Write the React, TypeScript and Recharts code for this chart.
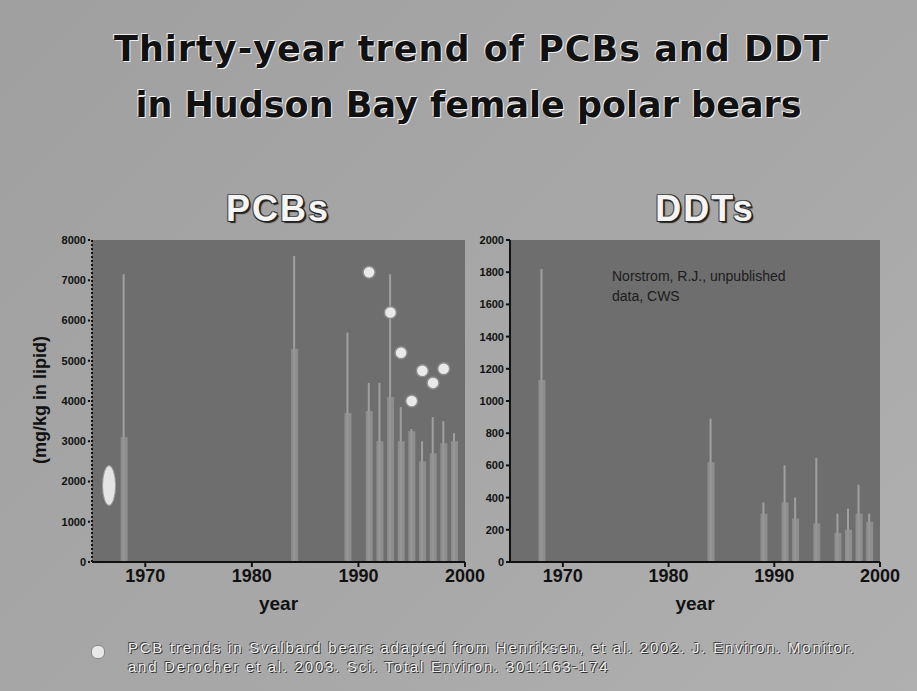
import React from 'react';
import { ComposedChart, Bar, Scatter, XAxis, YAxis, CartesianGrid } from 'recharts';

// ---- Data ----
const pcbYears = [1968, 1984, 1989, 1991, 1992, 1993, 1994, 1995, 1996, 1997, 1998, 1999];
const pcbMean = [3100, 5300, 3700, 3750, 3000, 4100, 3000, 3250, 2500, 2700, 2950, 3000];
const pcbUpper = [7150, 7600, 5700, 4450, 4450, 7150, 3850, 3300, 3000, 3600, 3500, 3200];

const svalbardYears = [1991, 1993, 1994, 1995, 1996, 1997, 1998];
const svalbardPcb = [7200, 6200, 5200, 4000, 4750, 4450, 4800];

const ovalYear = [1966.6];
const ovalValue = [1900];

const ddtYears = [1968, 1984, 1989, 1991, 1992, 1994, 1996, 1997, 1998, 1999];
const ddtMean = [1130, 620, 300, 370, 270, 240, 180, 200, 300, 250];
const ddtUpper = [1820, 890, 370, 600, 400, 646, 300, 330, 480, 300];

const yearTicks = [1970, 1980, 1990, 2000];
const pcbTicks = [0, 1000, 2000, 3000, 4000, 5000, 6000, 7000, 8000];
const ddtTicks = [0, 200, 400, 600, 800, 1000, 1200, 1400, 1600, 1800, 2000];

const titleLines = ['Thirty-year trend of PCBs and DDT', 'in Hudson Bay female polar bears'];
const noteLines = [
  'PCB trends in Svalbard bears adapted from Henriksen, et al. 2002. J. Environ. Monitor.',
  'and Derocher et al. 2003. Sci. Total Environ. 301:163-174',
];

const pcbData = pcbYears.map((y, i) => ({ year: y, mean: pcbMean[i], upper: pcbUpper[i] }));
const ddtData = ddtYears.map((y, i) => ({ year: y, mean: ddtMean[i], upper: ddtUpper[i] }));
const svalbardData = svalbardYears.map((y, i) => ({ year: y, value: svalbardPcb[i] }));
const ovalData = ovalYear.map((y, i) => ({ year: y, value: ovalValue[i] }));

const PLOT_FILL = '#6e6e6e';
const BAR_FILL = '#949494';
const LINE_FILL = '#a0a0a0';

const xTick = { fill: '#111', fontSize: 18, fontWeight: 700, fontFamily: 'Liberation Sans, Arial, sans-serif' };
const yTick = { fill: '#111', fontSize: 11, fontWeight: 700, fontFamily: 'Liberation Sans, Arial, sans-serif' };
const axisLabelStyle = { fill: '#111', fontSize: 19, fontWeight: 700, fontFamily: 'Liberation Sans, Arial, sans-serif' };

const Dot = (props: any) => {
  const { cx, cy } = props;
  if (cx == null || cy == null) return null;
  return <circle cx={cx} cy={cy} r={6} fill="#e9e9e9" stroke="#8c8c8c" strokeWidth={1.5} />;
};

const Oval = (props: any) => {
  const { cx, cy } = props;
  if (cx == null || cy == null) return null;
  return <ellipse cx={cx} cy={cy} rx={6.5} ry={20} fill="#e4e4e4" stroke="#9a9a9a" strokeWidth={1} />;
};

const abs = (left: number, top: number, extra: React.CSSProperties = {}): React.CSSProperties => ({
  position: 'absolute',
  left,
  top,
  ...extra,
});

export default function App() {
  return (
    <div
      style={{
        position: 'absolute',
        left: 0,
        top: 0,
        width: 917,
        height: 691,
        overflow: 'hidden',
        background: 'linear-gradient(135deg, #a0a0a0 0%, #a8a8a8 60%, #b0b0b0 100%)',
        fontFamily: 'Liberation Sans, Arial, sans-serif',
      }}
    >
      {/* Title */}
      {titleLines.map((t, i) => (
        <div
          key={t}
          style={abs(i === 0 ? 13 : 10, 29 + i * 56, {
            width: 917,
            textAlign: 'center',
            fontFamily: 'DejaVu Sans, sans-serif',
            fontWeight: 700,
            fontSize: 35,
            color: '#111',
            letterSpacing: i === 0 ? 1 : 0,
            textShadow: '-1px -1px 0 #eee, 1px 1px 0 #eee',
          })}
        >
          {t}
        </div>
      ))}

      {/* Panel titles */}
      {[
        { t: 'PCBs', x: 278 },
        { t: 'DDTs', x: 705 },
      ].map((p) => (
        <div
          key={p.t}
          style={abs(p.x - 100, 188, {
            width: 200,
            textAlign: 'center',
            fontWeight: 700,
            fontSize: 36,
            letterSpacing: 2,
            color: '#f5f5f5',
            textShadow: '1px 1px 0 #222, -1px -1px 0 #555, 2px 2px 1px #222, -1px 1px 0 #333, 1px -1px 0 #333',
          })}
        >
          {p.t}
        </div>
      ))}

      {/* Y axis label */}
      <div
        style={abs(42 - 110, 400 - 12, {
          width: 220,
          height: 24,
          textAlign: 'center',
          fontWeight: 700,
          fontSize: 18,
          color: '#111',
          transform: 'rotate(-90deg)',
          transformOrigin: '50% 50%',
        })}
      >
        (mg/kg in lipid)
      </div>

      {/* PCB chart */}
      <div style={abs(40, 230)}>
        <ComposedChart width={465} height={400} data={pcbData} margin={{ top: 10, right: 40, bottom: 18, left: 12 }}>
          <CartesianGrid fill={PLOT_FILL} horizontal={false} vertical={false} />
          <XAxis
            dataKey="year"
            type="number"
            domain={[1965, 2000]}
            ticks={yearTicks}
            allowDataOverflow
            tick={xTick}
            tickSize={5}
            stroke="#111"
            strokeWidth={2}
            height={50}
            label={{ value: 'year', position: 'insideBottom', offset: 2, style: axisLabelStyle }}
          />
          <XAxis xAxisId="thin" dataKey="year" type="number" domain={[1965, 2000]} hide />
          <YAxis
            type="number"
            domain={[0, 8000]}
            ticks={pcbTicks}
            tick={yTick}
            tickSize={4}
            width={40}
            stroke="#111"
            strokeWidth={2}
            strokeDasharray="2 2"
          />
          <Bar xAxisId="thin" dataKey="upper" barSize={2} fill={LINE_FILL} isAnimationActive={false} />
          <Bar dataKey="mean" barSize={7} fill={BAR_FILL} fillOpacity={0.85} isAnimationActive={false} />
          <Scatter data={ovalData} dataKey="value" shape={<Oval />} isAnimationActive={false} />
          <Scatter data={svalbardData} dataKey="value" shape={<Dot />} isAnimationActive={false} />
        </ComposedChart>
      </div>

      {/* DDT chart */}
      <div style={abs(470, 230)}>
        <ComposedChart width={440} height={400} data={ddtData} margin={{ top: 10, right: 30, bottom: 18, left: 8 }}>
          <CartesianGrid fill={PLOT_FILL} horizontal={false} vertical={false} />
          <XAxis
            dataKey="year"
            type="number"
            domain={[1965, 2000]}
            ticks={yearTicks}
            allowDataOverflow
            tick={xTick}
            tickSize={5}
            stroke="#111"
            strokeWidth={2}
            height={50}
            label={{ value: 'year', position: 'insideBottom', offset: 2, style: axisLabelStyle }}
          />
          <XAxis xAxisId="thin" dataKey="year" type="number" domain={[1965, 2000]} hide />
          <YAxis
            type="number"
            domain={[0, 2000]}
            ticks={ddtTicks}
            tick={yTick}
            tickSize={4}
            width={32}
            stroke="#111"
            strokeWidth={2}
          />
          <Bar xAxisId="thin" dataKey="upper" barSize={2} fill={LINE_FILL} isAnimationActive={false} />
          <Bar dataKey="mean" barSize={7} fill={BAR_FILL} fillOpacity={0.85} isAnimationActive={false} />
        </ComposedChart>
      </div>

      {/* Annotation in DDT panel */}
      <div
        style={abs(612, 266, {
          fontSize: 14,
          lineHeight: '20px',
          color: '#1c1c1c',
          width: 260,
        })}
      >
        Norstrom, R.J., unpublished
        <br />
        data, CWS
      </div>

      {/* Footnote */}
      <div style={abs(91, 645, { width: 12, height: 12, borderRadius: 6, background: '#e8e8e8', border: '1px solid #888' })} />
      <div
        style={abs(128, 638, {
          fontSize: 15,
          lineHeight: '19px',
          letterSpacing: 1.75,
          color: '#f0f0f0',
          whiteSpace: 'nowrap',
          textShadow: '1px 1px 0 #333, -1px -1px 0 #444',
        })}
      >
        {noteLines[0]}
        <br />
        {noteLines[1]}
      </div>
    </div>
  );
}
